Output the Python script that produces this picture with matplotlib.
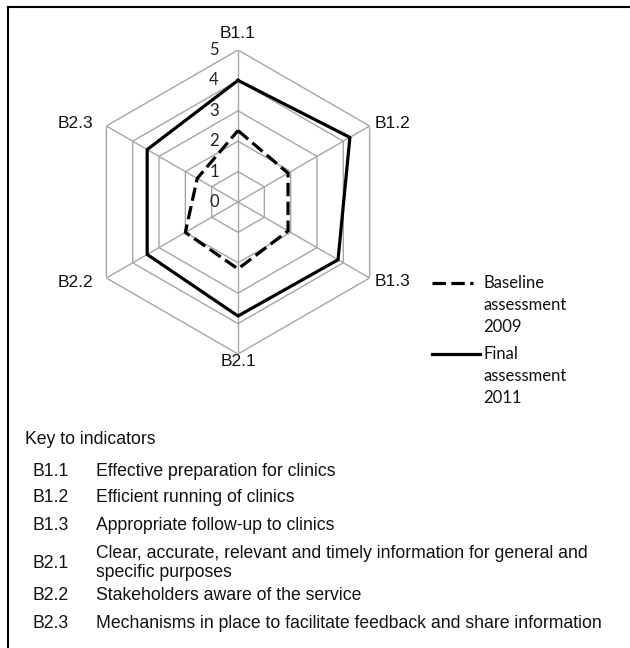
import numpy as np
import matplotlib
matplotlib.use("Agg")
import matplotlib.pyplot as plt
from matplotlib.lines import Line2D
from matplotlib.transforms import offset_copy

# ---------------------------------------------------------------------------
# Data
# ---------------------------------------------------------------------------
indicators = ["B1.1", "B1.2", "B1.3", "B2.1", "B2.2", "B2.3"]
baseline_2009 = [2.35, 1.9, 1.9, 2.2, 2.0, 1.55]
final_2011 = [4.0, 4.25, 3.8, 3.75, 3.45, 3.45]
r_ticks = [0, 1, 2, 3, 4, 5]

key_codes = ["B1.1", "B1.2", "B1.3", "B2.1", "B2.2", "B2.3"]
key_texts = [
    "Effective preparation for clinics",
    "Efficient running of clinics",
    "Appropriate follow-up to clinics",
    "Clear, accurate, relevant and timely information for general and\nspecific purposes",
    "Stakeholders aware of the service",
    "Mechanisms in place to facilitate feedback and share information",
]

W, H = 630, 648
ARIAL = "Liberation Sans"
CALIBRI = "Lato"
GRID = "#a6a6a6"
KEY_FS = 12.7


def fx(x):
    return x / W


def fy(y):
    return 1 - y / H


fig = plt.figure(figsize=(W / 100, H / 100), dpi=100)
fig.patch.set_facecolor("white")

# radar axes: centre (238, 202) px, radius 152 px
cx, cy, R = 238, 202, 152
ax = fig.add_axes([fx(cx - R), fy(cy + R), 2 * R / W, 2 * R / H], projection="polar")
ax.set_theta_offset(np.pi / 2)
ax.set_theta_direction(-1)
ax.set_ylim(0, 5)
ax.grid(False)
ax.spines["polar"].set_visible(False)
ax.set_xticks([])
ax.set_yticks([])
ax.patch.set_alpha(0)

n = len(indicators)
theta = np.linspace(0, 2 * np.pi, n, endpoint=False)
theta_c = np.append(theta, theta[0])

# hexagonal grid
for v in r_ticks[1:]:
    ax.plot(theta_c, [v] * (n + 1), color=GRID, lw=1.0, zorder=1)
for t in theta:
    ax.plot([t, t], [0, 5], color=GRID, lw=1.0, zorder=1)

# series
ax.plot(theta_c, baseline_2009 + baseline_2009[:1], color="black", lw=2.3,
        linestyle=(0, (4.2, 1.7)), zorder=3)
ax.plot(theta_c, final_2011 + final_2011[:1], color="black", lw=2.3, zorder=4)

# radial tick labels, left of the vertical axis
tick_tr = offset_copy(ax.transData, fig=fig, x=-24, y=0, units="dots")
for v in r_ticks:
    ax.text(0, v, str(v), transform=tick_tr, ha="center", va="center",
            fontsize=12, family=CALIBRI, color="#222222")

# category labels
label_offsets = [
    (0, 17, "center"),
    (5, 3, "left"),
    (5, -4, "left"),
    (0, -8, "center"),
    (-13, -4, "right"),
    (-13, 3, "right"),
]
for t, name, (dx, dy, ha) in zip(theta, indicators, label_offsets):
    tr = offset_copy(ax.transData, fig=fig, x=dx, y=dy, units="dots")
    ax.text(t, 5, name, transform=tr, ha=ha, va="center",
            fontsize=12.5, family=ARIAL, color="#111111")

# legend
fig.add_artist(Line2D([fx(432), fx(473)], [fy(283), fy(283)], color="black",
                      lw=2.3, linestyle=(0, (4.2, 1.7))))
fig.add_artist(Line2D([fx(432), fx(480)], [fy(354), fy(354)], color="black", lw=2.3))
for y0, lines in ((283, ["Baseline", "assessment", "2009"]),
                  (354, ["Final", "assessment", "2011"])):
    for i, s in enumerate(lines):
        fig.text(fx(483), fy(y0 + i * 22), s, ha="left", va="center",
                 fontsize=12, family=CALIBRI, color="#111111")

# key to indicators
fig.text(fx(25), fy(440), "Key to indicators", ha="left", va="center",
         fontsize=KEY_FS, family=ARIAL, color="#111111")
row_y = [471, 498, 525, 563, 596, 623]
for y, code, desc in zip(row_y, key_codes, key_texts):
    fig.text(fx(33), fy(y), code, ha="left", va="center",
             fontsize=KEY_FS, family=ARIAL, color="#111111")
    fig.text(fx(96), fy(y), desc, ha="left", va="center",
             fontsize=KEY_FS, family=ARIAL, color="#111111", linespacing=1.1)

# frame (top and left edges only)
fig.add_artist(Line2D([fx(8), fx(630)], [fy(7), fy(7)], color="black", lw=1.5))
fig.add_artist(Line2D([fx(8), fx(8)], [fy(7), fy(648)], color="black", lw=1.5))

fig.savefig("out.png", dpi=100, facecolor="white")
